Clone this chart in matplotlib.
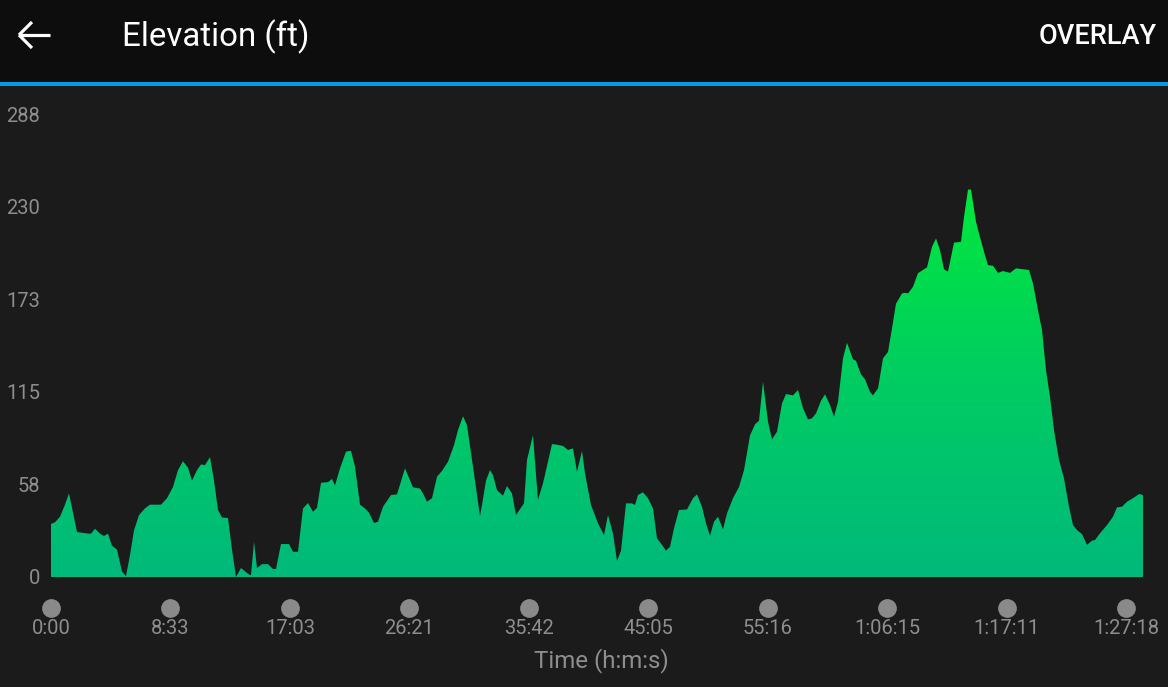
import numpy as np
import matplotlib
matplotlib.use("Agg")
import matplotlib.pyplot as plt
from matplotlib.lines import Line2D
from matplotlib.patches import Rectangle
from matplotlib.colors import LinearSegmentedColormap

plt.rcParams['font.family'] = ['Roboto', 'DejaVu Sans']

# ---- data (distance along route in arbitrary units, elevation in ft) ----
dist = [0, 4, 9, 14, 18, 22, 26, 37, 40, 44, 49, 53, 57, 61, 66, 71, 75, 79, 83, 88,
        94, 99, 110, 116, 122, 127, 132, 137, 141, 146, 150, 154, 159, 163, 167, 171,
        177, 181, 185, 190, 197, 200, 203, 206, 211, 217, 222, 225, 230, 238, 242, 247,
        252, 257, 262, 266, 270, 277, 281, 284, 289, 295, 300, 304, 309, 314, 318, 323,
        327, 332, 340, 346, 354, 362, 369, 372, 376, 381, 386, 391, 397, 403, 407, 412,
        416, 422, 429, 431, 435, 439, 442, 446, 452, 456, 461, 465, 473, 476, 482, 484,
        487, 492, 501, 506, 512, 517, 522, 526, 531, 534, 540, 547, 553, 557, 562, 566,
        570, 575, 581, 584, 587, 592, 597, 602, 606, 611, 615, 619, 623, 628, 636, 642,
        646, 651, 655, 659, 663, 667, 672, 676, 682, 688, 693, 699, 704, 708, 712, 717,
        721, 726, 731, 735, 742, 747, 752, 757, 761, 765, 770, 774, 779, 783, 787, 792,
        796, 802, 805, 810, 814, 819, 822, 827, 832, 837, 841, 845, 851, 854, 857, 862,
        867, 876, 881, 885, 889, 893, 897, 903, 910, 913, 917, 920, 925, 928, 933, 937,
        942, 947, 952, 959, 965, 971, 978, 982, 987, 991, 995, 999, 1003, 1008, 1013,
        1018, 1022, 1026, 1031, 1036, 1041, 1044, 1049, 1056, 1062, 1066, 1071, 1076,
        1082, 1088, 1092]
elev = [33, 34, 37.5, 45, 52, 40, 28, 27, 27, 30, 27, 25.5, 27, 19.5, 17, 3.3, 0.6,
        13.7, 29, 38.5, 42.7, 45, 45, 49, 56, 66.5, 72, 68, 60, 66.5, 70, 69.6, 74.6,
        60, 41.7, 37, 36.7, 17, 0, 5.6, 2, 1, 22, 5.6, 8, 8, 5, 5, 20.5, 20.5, 15.7,
        15.7, 42.7, 46, 40.6, 43, 58.6, 59, 61, 57, 67.6, 78, 78.5, 68.6, 45, 42.7, 40,
        33.6, 34.4, 43.7, 51, 51.4, 67.6, 55.8, 55, 52, 46.8, 49, 62.4, 66, 71.7, 82,
        91.4, 100, 94.5, 68.6, 38, 44.8, 60, 66.5, 63.4, 54, 50.6, 56.6, 52, 38.6, 45.8,
        72.8, 88.3, 71.7, 48, 58.3, 82.7, 82.3, 81.5, 79, 80, 65.5, 78.4, 64.5, 44.8,
        33.4, 26, 38.6, 27, 10, 16.4, 45.8, 45.8, 44.8, 51, 52.7, 49, 42.7, 24, 20,
        16.4, 18.8, 30.3, 41.7, 42, 49, 51.4, 43.7, 33.4, 25.7, 34.4, 37.5, 29.7, 39.6,
        49, 56, 66.5, 88, 95, 97.2, 121.5, 96.6, 85.6, 90.4, 108, 113.8, 113, 116.3,
        105, 98, 98.7, 101.8, 109.6, 113.6, 107, 99.7, 109, 136, 145.7, 135.4, 134.5,
        126, 123, 115.2, 113, 117.3, 136, 140, 154.7, 170, 176.4, 176.8, 176.4, 180.5,
        189, 192.6, 205.4, 210.6, 203.4, 191.4, 190, 208, 208.5, 224, 241, 241, 221,
        213.7, 202.3, 194, 193.6, 189.2, 190.3, 189.2, 192, 191.5, 191, 182.6, 166,
        153.6, 128.7, 112, 91.4, 72.8, 61.4, 43.7, 32.3, 29.2, 26.7, 20, 22.6, 23,
        27.2, 32.3, 37.5, 43.3, 43.7, 46.8, 49, 51.6, 51]

y_ticks = [0, 57.6, 115.2, 172.8, 230.4, 288]
y_labels = ['0', '58', '115', '173', '230', '288']
tick_spacing = 119.45
x_labels = ['0:00', '8:33', '17:03', '26:21', '35:42', '45:05', '55:16',
            '1:06:15', '1:17:11', '1:27:18']

title = 'Elevation (ft)'
action = 'OVERLAY'
x_title = 'Time (h:m:s)'

# ---- figure ----
W, H = 1168, 687
fig = plt.figure(figsize=(W / 100, H / 100), dpi=100, facecolor='#1b1b1b')

def fy(py):
    return 1 - py / H

def fx(px):
    return px / W

# header
fig.patches.append(Rectangle((0, fy(82)), 1, 82 / H, transform=fig.transFigure,
                             facecolor='#0d0d0d', edgecolor='none', zorder=0))
fig.patches.append(Rectangle((0, fy(86)), 1, 4 / H, transform=fig.transFigure,
                             facecolor='#039be5', edgecolor='none', zorder=1))
# back arrow
for (x0, y0, x1, y1) in [(19, 35, 50, 35), (19, 35, 32, 22), (19, 35, 32, 48)]:
    fig.add_artist(Line2D([fx(x0), fx(x1)], [fy(y0), fy(y1)], transform=fig.transFigure,
                          color='white', linewidth=2.3, solid_capstyle='butt'))
fig.text(fx(122), fy(37), title, color='white', fontsize=23.8, va='center', ha='left')
fig.text(fx(1157), fy(37), action, color='white', fontsize=19.5, va='center',
         ha='right', fontweight='medium')

# axes
left, right, top, bottom = 51, 1143, 114, 577
ax = fig.add_axes([fx(left), fy(bottom), (right - left) / W, (bottom - top) / H])
ax.set_facecolor('#1b1b1b')
ax.patch.set_alpha(0)
x = np.array(dist, dtype=float)
y = np.array(elev, dtype=float)
ax.set_xlim(0, x.max())
ax.set_ylim(0, 288)

poly = ax.fill_between(x, 0, y, facecolor='none', edgecolor='none')
cmap = LinearSegmentedColormap.from_list('g', ['#00b97b', '#00cc62', '#00e83c'])
grad = np.linspace(0, 1, 256).reshape(-1, 1)
im = ax.imshow(grad, cmap=cmap, origin='lower', aspect='auto',
               extent=[0, x.max(), 0, y.max()], interpolation='bilinear')
path = poly.get_paths()[0]
im.set_clip_path(path, transform=ax.transData)

for s in ax.spines.values():
    s.set_visible(False)

ax.set_yticks(y_ticks)
ax.set_yticklabels(y_labels)
xt = [i * tick_spacing for i in range(len(x_labels))]
ax.set_xticks(xt)
ax.set_xticklabels(x_labels)
ax.tick_params(axis='both', length=0, colors='#8e8e8e', labelsize=14.5)
ax.tick_params(axis='y', pad=8)
ax.tick_params(axis='x', pad=30)

# tick dots
ax.plot(xt, [-31 / (bottom - top)] * len(xt), 'o', color='#8a8a8a', markersize=13.5,
        markeredgewidth=0, transform=ax.get_xaxis_transform(), clip_on=False)

fig.text(fx(601), fy(661), x_title, color='#8e8e8e', fontsize=17.3, ha='center', va='center')

fig.savefig('out.png', dpi=100, facecolor=fig.get_facecolor())
